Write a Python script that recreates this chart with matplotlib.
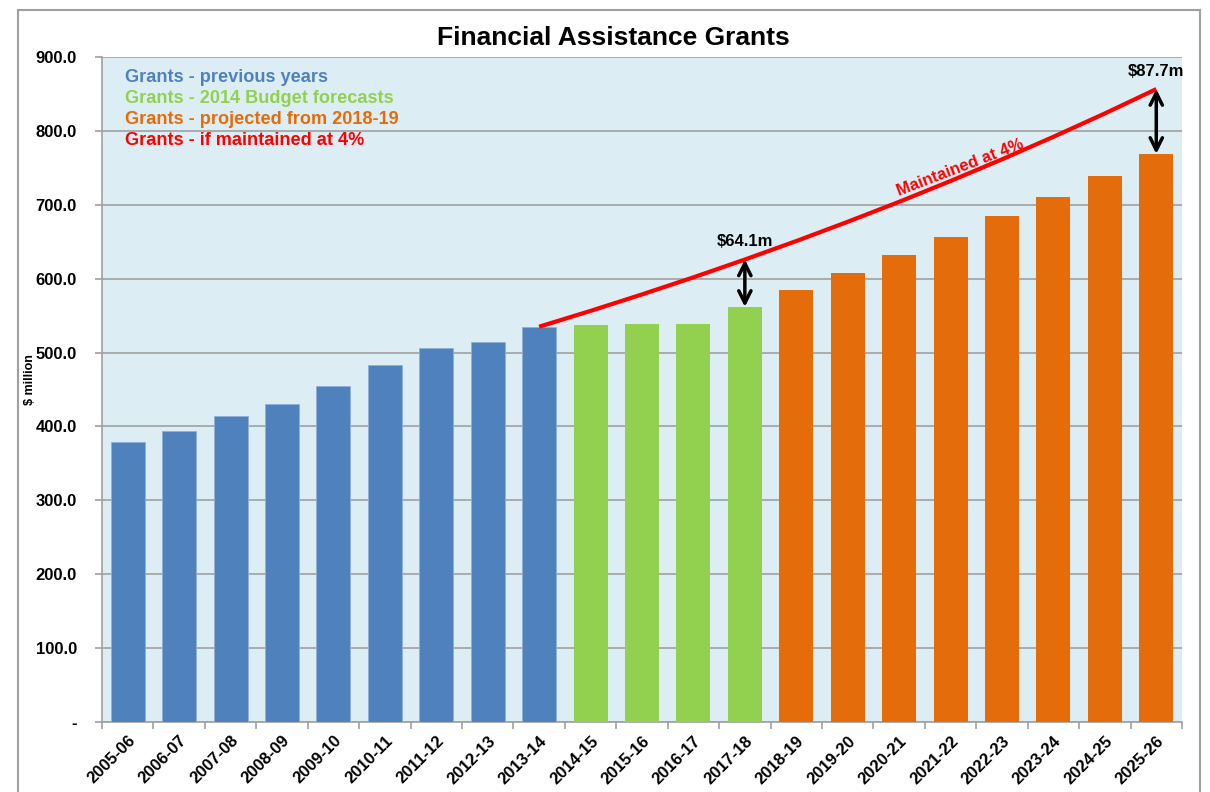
import numpy as np
import matplotlib.pyplot as plt
from matplotlib.lines import Line2D

# Данные
years = ['2005-06', '2006-07', '2007-08', '2008-09', '2009-10', '2010-11', '2011-12',
         '2012-13', '2013-14', '2014-15', '2015-16', '2016-17', '2017-18', '2018-19',
         '2019-20', '2020-21', '2021-22', '2022-23', '2023-24', '2024-25', '2025-26']
prev_vals = [379, 394, 414, 430, 455, 483, 506, 514, 535]
budget_vals = [537, 539, 539, 561.8]
proj_vals = [585, 608, 632, 656, 685, 711, 739, 768.9]
maintained_vals = [535, 556.4, 578.7, 601.8, 625.9, 650.9, 677.0, 704.0,
                   732.2, 761.5, 792.0, 823.6, 856.6]
gap_labels = ['$64.1m', '$87.7m']

c_blue = '#4F81BD'
c_green = '#92D050'
c_orange = '#E46C0A'
c_red = '#FF0000'

plt.rcParams['font.family'] = ['Liberation Sans', 'DejaVu Sans']

fig = plt.figure(figsize=(12.1, 7.92), dpi=100)
ax = fig.add_axes([102/1210, 1 - 722/792, 1080/1210, 665/792])
ax.set_facecolor('#DCEEF4')

x = np.arange(len(years))
n1, n2 = len(prev_vals), len(budget_vals)
ax.bar(x[:n1], prev_vals, width=0.66, color=c_blue, edgecolor='#8EB1DA', linewidth=0.6, zorder=3)
ax.bar(x[n1:n1 + n2], budget_vals, width=0.66, color=c_green, zorder=3)
ax.bar(x[n1 + n2:], proj_vals, width=0.66, color=c_orange, zorder=3)

xm = x[n1 - 1:]
ax.plot(xm, maintained_vals, color=c_red, lw=3, zorder=4, solid_capstyle='butt')

# стрелки разрыва
i1 = years.index('2017-18')
i2 = years.index('2025-26')
for i, low, high, lab in [(i1, budget_vals[-1], maintained_vals[i1 - (n1 - 1)], gap_labels[0]),
                          (i2, proj_vals[-1], maintained_vals[-1], gap_labels[1])]:
    ax.annotate('', xy=(i, high), xytext=(i, low),
                arrowprops=dict(arrowstyle='<->', color='black', lw=2.5,
                                mutation_scale=22, shrinkA=0, shrinkB=0), zorder=5)
    ax.text(i, high + 14, lab, ha='center', va='bottom', fontsize=12,
            fontweight='bold', zorder=5)

ax.text(16.18, 750, 'Maintained at 4%', color=c_red, fontsize=12, fontweight='bold',
        rotation=21, ha='center', va='center', zorder=5)

ax.set_xlim(-0.5, len(years) - 0.5)
ax.set_ylim(0, 900)
ax.set_yticks(np.arange(0, 901, 100))
ax.set_yticklabels(['-'] + [f'{v:.1f}' for v in range(100, 901, 100)],
                   fontsize=12, fontweight='bold')
ax.yaxis.grid(True, color='#A0A0A0', lw=1.2, zorder=0)
ax.set_axisbelow(True)

ax.set_xticks(x)
ax.set_xticklabels(years, rotation=45, ha='right', rotation_mode='anchor',
                   fontsize=12, fontweight='bold')
ax.tick_params(axis='x', which='major', length=0, pad=8)
ax.set_xticks(np.arange(-0.5, len(years)), minor=True)
ax.tick_params(axis='x', which='minor', length=5, color='#A0A0A0', width=1.2)
ax.tick_params(axis='y', length=5, color='#A0A0A0', width=1.2, pad=13)

for s in ['top', 'right']:
    ax.spines[s].set_visible(False)
for s in ['left', 'bottom']:
    ax.spines[s].set_color('#A0A0A0')
    ax.spines[s].set_linewidth(1.2)

ax.set_ylabel('$ million', fontsize=9, fontweight='bold')
ax.yaxis.set_label_coords((36 - 102) / 1080, (722 - 380) / 665)

fig.text(613/1210, 1 - 38/792, 'Financial Assistance Grants', ha='center', va='center',
         fontsize=19, fontweight='bold')

leg = [('Grants - previous years', c_blue), ('Grants - 2014 Budget forecasts', c_green),
       ('Grants - projected from 2018-19', c_orange), ('Grants - if maintained at 4%', c_red)]
for k, (t, c) in enumerate(leg):
    fig.text(125/1210, 1 - (77 + 21.3 * k)/792, t, color=c, fontsize=13.1,
             fontweight='bold', va='center', ha='left')

# рамка области диаграммы
for xs, ys in [([18, 18], [10, 792]), ([18, 1200], [10, 10]), ([1200, 1200], [10, 792])]:
    fig.add_artist(Line2D([v/1210 for v in xs], [1 - v/792 for v in ys],
                          color='#A0A0A0', lw=1.5))

fig.savefig('out.png', dpi=100)
